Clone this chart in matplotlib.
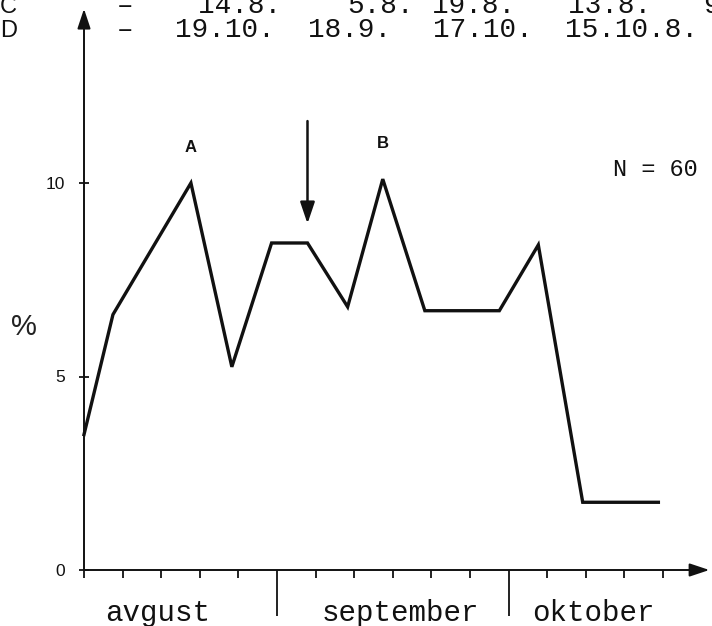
import matplotlib.pyplot as plt

# share of cases (%) along the season, x in tick units from the y axis
x_pos = [0, 0.75, 2.77, 3.83, 4.86, 5.79, 6.83, 7.74, 8.83, 10.76, 11.77, 12.92, 14.88]
pct = [3.5, 6.6, 10.0, 5.25, 8.45, 8.45, 6.8, 10.1, 6.7, 6.7, 8.4, 1.75, 1.75]

peak_labels = ["A", "B"]
peak_idx = [2, 7]
arrow_idx = 5

months = ["avgust", "september", "oktober"]
month_bounds = [5, 11]
month_centers = [1.92, 8.19, 13.19]

y_ticks = [0, 5, 10]
minor_ticks = [0, 1, 2, 3, 4, 6, 7, 8, 9, 10, 12, 13, 14, 15]

row_c = ["14.8.", "5.8.", "19.8.", "13.8.", "9"]
row_d = ["19.10.", "18.9.", "17.10.", "15.10.8."]

W, H = 712, 626
ink = "#111111"
mono = "Liberation Mono"
sans = "Liberation Sans"

fig = plt.figure(figsize=(W / 100, H / 100), dpi=100)
ax = fig.add_axes([84 / W, 56 / H, 628 / W, 570 / H])
ax.set_xlim(0, 628 / 38.6)
ax.set_ylim(0, 570 / 38.7)
for s in ax.spines.values():
    s.set_visible(False)

# axes drawn as arrows
arrow_kw = dict(arrowstyle="-|>,head_length=0.6,head_width=0.2", lw=1.4,
                color=ink, shrinkA=0, shrinkB=0, mutation_scale=20)
ax.annotate("", xy=(16.2, 0), xytext=(0, 0), arrowprops=arrow_kw, annotation_clip=False)
ax.annotate("", xy=(0, 14.5), xytext=(0, 0), arrowprops=arrow_kw, annotation_clip=False)

ax.plot(x_pos, pct, color=ink, lw=2.4, solid_joinstyle="miter", clip_on=False)

# ticks
ax.set_xticks(month_bounds)
ax.set_xticks(minor_ticks, minor=True)
ax.tick_params(axis="x", which="major", direction="out", length=33, width=1.3,
               color=ink, labelbottom=False)
ax.tick_params(axis="x", which="minor", direction="out", length=6, width=1.3,
               color=ink)
ax.set_yticks(y_ticks)
ax.set_yticklabels([str(v) for v in y_ticks], fontfamily=sans, fontsize=12.5)
ax.tick_params(axis="y", direction="inout", length=7, width=1.3, color=ink,
               pad=10, labelcolor=ink)

for name, cx in zip(months, month_centers):
    ax.text(cx, -1.1, name, ha="center", va="center", fontfamily=mono,
            fontsize=21, color=ink, clip_on=False)

for lab, i in zip(peak_labels, peak_idx):
    ax.annotate(lab, (x_pos[i], pct[i]), xytext=(0, 20), textcoords="offset points",
                ha="center", va="bottom", fontfamily=sans, fontweight="bold",
                fontsize=12, color=ink)

ax.annotate("", xy=(x_pos[arrow_idx], 8.95), xytext=(x_pos[arrow_idx], 11.6),
            arrowprops=dict(arrowstyle="-|>,head_length=0.65,head_width=0.22",
                            lw=1.8, color=ink, shrinkA=0, shrinkB=0,
                            mutation_scale=20))

fig.text(24 / W, 1 - 327 / H, "%", ha="center", va="center", fontfamily=sans,
         fontsize=21, color="#222222")
fig.text(655 / W, 1 - 169 / H, "N = 60", ha="center", va="center",
         fontfamily=mono, fontsize=17, color=ink)

# header rows (top one cut by the page edge, as in the source)
for lab, yb in zip(["C", "D"], [13, 37]):
    fig.text(0, 1 - yb / H, lab, ha="left", va="baseline", fontfamily=sans,
             fontsize=17, color=ink)
    fig.text(125 / W, 1 - yb / H, "\u2013", ha="center", va="baseline",
             fontfamily=mono, fontsize=20, color=ink)
for tok, px in zip(row_c, [198, 347, 432, 568, 703]):
    fig.text(px / W, 1 - 13 / H, tok, ha="left", va="baseline",
             fontfamily=mono, fontsize=20, color=ink)
for tok, px in zip(row_d, [175, 308, 433, 565]):
    fig.text(px / W, 1 - 37 / H, tok, ha="left", va="baseline",
             fontfamily=mono, fontsize=20, color=ink)

fig.savefig("out.png", dpi=100, facecolor="white")
